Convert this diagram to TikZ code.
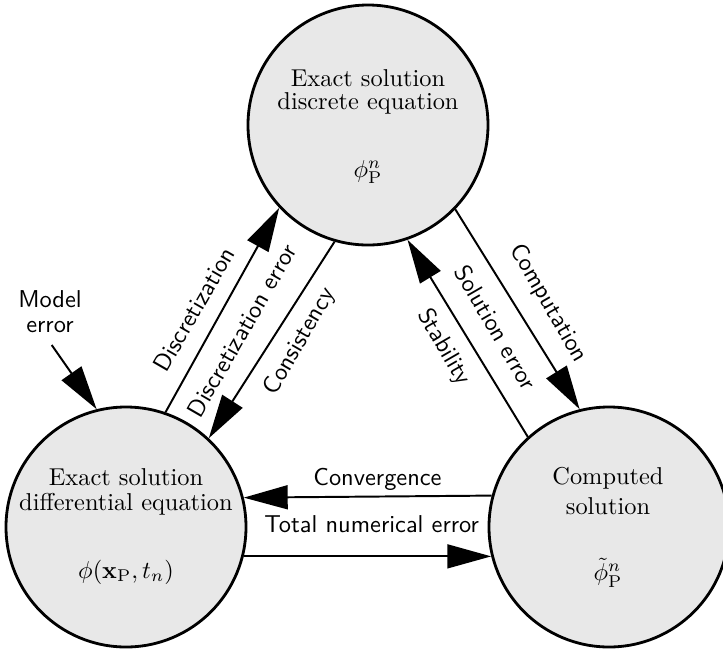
\documentclass[tikz,border=0pt]{standalone}
\usetikzlibrary{arrows.meta}
\definecolor{cfill}{RGB}{232,232,232}
\begin{document}
\begin{tikzpicture}[x=0.41pt,y=-0.41pt,
  state/.style={circle,draw,line width=1.15pt,fill=cfill,minimum size=98.4pt,inner sep=0pt},
  conn/.style={line width=0.8pt,-{Triangle[length=18pt,width=9.8pt]}},
  lab/.style={font=\sffamily,inner sep=0pt},
  txt/.style={anchor=base,inner sep=0pt}]
\useasboundingbox (0,0) rectangle (723,651);
% circles
\node[state] (T) at (368,125) {};
\node[state] (L) at (126,527) {};
\node[state] (R) at (609,527) {};
% circle texts
\node[txt] (T1) at (368,86) {Exact solution};
\node[txt] (T2) at (368,109) {discrete equation};
\node[txt] (T3) at (368,177) {$\phi^n_{\mathrm{P}}$};
\node[txt] (L1) at (126,485.7) {Exact solution};
\node[txt] (L2) at (126,510) {differential equation};
\node[txt] (L3) at (126,578) {$\phi(\mathbf{x}_{\mathrm{P}},t_n)$};
\node[txt] (R1) at (608,484.3) {Computed};
\node[txt] (R2) at (608,514) {solution};
\node[txt] (R3) at (608,580.7) {$\tilde{\phi}^n_{\mathrm{P}}$};
% connectors
\draw[conn] (L.71.5) -- (T.223.5);
\draw[conn] (T.254) -- (L.47.5);
\draw[conn] (T.316.8) -- (R.104.2);
\draw[conn] (R.132.5) -- (T.289.2);
\draw[conn] (R.165.6) -- (L.14.4);
\draw[conn] (L.-14.4) -- (R.194.4);
\coordinate (me) at (51.7,345);
\draw[conn] (me) -- (L.104.4);
% labels
\node[lab,rotate=60] (dz) at (194,309.3) {Discretization};
\node[lab,rotate=60] (dze) at (241.7,330.7) {Discretization error};
\node[lab,rotate=60] (cs) at (300,341.7) {Consistency};
\node[lab,rotate=-60] (cp) at (548.3,303.3) {Computation};
\node[lab,rotate=-60] (se) at (496,327.3) {Solution error};
\node[lab,rotate=-60] (st) at (443.3,347.3) {Stability};
\node[lab,anchor=base] (cv) at (377.5,485) {Convergence};
\node[lab,anchor=base] (tn) at (371.7,532.7) {Total numerical error};
\node[lab,align=center,font=\sffamily\fontsize{10}{10.3}\selectfont] (md) at (50,311.5) {Model\\error};
\end{tikzpicture}
\end{document}
